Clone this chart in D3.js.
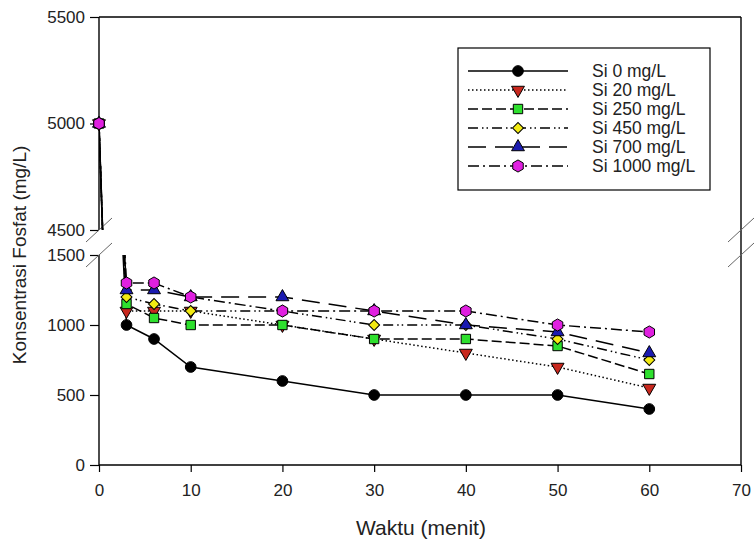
<!DOCTYPE html>
<html>
<head>
<meta charset="utf-8">
<script src="https://cdn.jsdelivr.net/npm/d3@7"></script>
<style>
  html, body { margin: 0; padding: 0; background: #fff; }
  svg { display: block; font-family: "Liberation Sans", Arial, sans-serif; }
</style>
</head>
<body>
<svg id="chart" width="754" height="541"></svg>
<script>
// ---- Data ----
const times = [0, 3, 6, 10, 20, 30, 40, 50, 60];
const si0    = [5000, 1000, 900, 700, 600, 500, 500, 500, 400];
const si20   = [5000, 1100, 1100, 1100, 1000, 900, 800, 700, 550];
const si250  = [5000, 1150, 1050, 1000, 1000, 900, 900, 850, 650];
const si450  = [5000, 1200, 1150, 1100, 1100, 1000, 1000, 900, 750];
const si700  = [5000, 1250, 1250, 1200, 1200, 1100, 1000, 950, 800];
const si1000 = [5000, 1300, 1300, 1200, 1100, 1100, 1100, 1000, 950];
const seriesNames = ["Si 0 mg/L", "Si 20 mg/L", "Si 250 mg/L", "Si 450 mg/L", "Si 700 mg/L", "Si 1000 mg/L"];
const xTicks = [0, 10, 20, 30, 40, 50, 60, 70];
const yTopTicks = [4500, 5000, 5500];
const yBotTicks = [0, 500, 1000, 1500];

// ---- Styles ----
const hexagon = {
  draw(ctx, size) {
    const r = Math.sqrt(size / (3 * Math.sqrt(3) / 2));
    for (let i = 0; i < 6; i++) {
      const a = (-90 + i * 60) * Math.PI / 180;
      const px = r * Math.cos(a), py = r * Math.sin(a);
      if (i === 0) ctx.moveTo(px, py); else ctx.lineTo(px, py);
    }
    ctx.closePath();
  }
};
const styles = [
  { data: si0,    fill: "#000000", symbol: d3.symbolCircle,   size: 90, rot: 0,   dash: null },
  { data: si20,   fill: "#c8281e", symbol: d3.symbolTriangle, size: 72, rot: 180, dash: "1.5,2.5" },
  { data: si250,  fill: "#2ee02e", symbol: d3.symbolSquare,   size: 88, rot: 0,   dash: "10,4" },
  { data: si450,  fill: "#f2ea12", symbol: d3.symbolSquare,   size: 60, rot: 45,  dash: "10,4,1.5,3,1.5,4" },
  { data: si700,  fill: "#1b1bb0", symbol: d3.symbolTriangle, size: 72, rot: 0,   dash: "18,9" },
  { data: si1000, fill: "#e020e0", symbol: hexagon,           size: 95, rot: 0,   dash: "11,4,2,4" }
];

// ---- Layout ----
const svg = d3.select("#chart");
const x = d3.scaleLinear().domain([0, 70]).range([99, 741]);
const yTop = d3.scaleLinear().domain([4500, 5500]).range([230, 17]);
const yBot = d3.scaleLinear().domain([0, 1500]).range([465, 255]);

const defs = svg.append("defs");
defs.append("clipPath").attr("id", "clipTop").append("rect")
  .attr("x", 99).attr("y", 17).attr("width", 642).attr("height", 213);
defs.append("clipPath").attr("id", "clipBot").append("rect")
  .attr("x", 99).attr("y", 255).attr("width", 642).attr("height", 210);

// ---- Axes ----
function styleAxis(g) {
  g.selectAll("path.domain").remove();
  g.selectAll(".tick line").attr("stroke", "#000").attr("stroke-width", 1.2);
  g.selectAll(".tick text").attr("font-size", "17px").attr("fill", "#222")
    .attr("font-family", "Liberation Sans, Arial, sans-serif");
}
svg.append("g").attr("transform", "translate(99,0)")
  .call(d3.axisLeft(yTop).tickValues(yTopTicks).tickSize(9).tickPadding(5).tickFormat(d3.format("d")))
  .call(styleAxis);
svg.append("g").attr("transform", "translate(99,0)")
  .call(d3.axisLeft(yBot).tickValues(yBotTicks).tickSize(9).tickPadding(5).tickFormat(d3.format("d")))
  .call(styleAxis);
svg.append("g").attr("transform", "translate(0,465)")
  .call(d3.axisBottom(x).tickValues(xTicks).tickSize(7).tickPadding(12).tickFormat(d3.format("d")))
  .call(styleAxis);

// frame lines
const frame = svg.append("g").attr("stroke", "#000").attr("stroke-width", 1.4).attr("fill", "none");
frame.append("line").attr("x1", x(0)).attr("x2", x(0)).attr("y1", yTop(5500)).attr("y2", yTop(4500));
frame.append("line").attr("x1", x(0)).attr("x2", x(0)).attr("y1", yBot(1500)).attr("y2", yBot(0));
frame.append("line").attr("x1", x(0)).attr("x2", x(70)).attr("y1", yTop(5500)).attr("y2", yTop(5500));
frame.append("line").attr("x1", x(0)).attr("x2", x(70)).attr("y1", yBot(0)).attr("y2", yBot(0));
frame.append("line").attr("x1", x(70)).attr("x2", x(70)).attr("y1", yTop(5500)).attr("y2", yBot(0));

// break marks
const brk = svg.append("g").attr("stroke", "#666").attr("stroke-width", 1);
[x(0), x(70)].forEach(bx => {
  [yTop(4500), yBot(1500)].forEach(by => {
    brk.append("line").attr("x1", bx - 13).attr("y1", by + 12).attr("x2", bx + 13).attr("y2", by - 12);
  });
});

// ---- Series ----
const plotTop = svg.append("g").attr("clip-path", "url(#clipTop)");
const plotBot = svg.append("g").attr("clip-path", "url(#clipBot)");
const markers = svg.append("g");

styles.forEach((s) => {
  const pts = times.map((t, i) => [t, s.data[i]]);
  const lineTop = d3.line().x(d => x(d[0])).y(d => yTop(d[1]));
  const lineBot = d3.line().x(d => x(d[0])).y(d => yBot(d[1]));
  [[plotTop, lineTop], [plotBot, lineBot]].forEach(([g, ln]) => {
    g.append("path").datum(pts).attr("d", ln)
      .attr("fill", "none").attr("stroke", "#000").attr("stroke-width", 1.5)
      .attr("stroke-dasharray", s.dash);
  });
  const sym = d3.symbol().type(s.symbol).size(s.size);
  markers.append("g").selectAll("path").data(pts).join("path")
    .attr("d", sym)
    .attr("transform", d => {
      const yy = d[1] >= 4500 ? yTop(d[1]) : yBot(d[1]);
      return `translate(${x(d[0])},${yy}) rotate(${s.rot})`;
    })
    .attr("fill", s.fill).attr("stroke", "#000").attr("stroke-width", 1);
});

// ---- Axis titles ----
svg.append("text").attr("x", 421).attr("y", 535).attr("text-anchor", "middle")
  .attr("font-size", "21px").attr("fill", "#222").text("Waktu (menit)");
svg.append("text").attr("transform", "translate(26,255) rotate(-90)").attr("text-anchor", "middle")
  .attr("font-size", "19px").attr("fill", "#222").text("Konsentrasi Fosfat (mg/L)");

// ---- Legend ----
const leg = svg.append("g");
leg.append("rect").attr("x", 458).attr("y", 48).attr("width", 252).attr("height", 142)
  .attr("fill", "#fff").attr("stroke", "#000").attr("stroke-width", 1.2);
styles.forEach((s, i) => {
  const ly = 71 + i * 19;
  leg.append("line").attr("x1", 468).attr("x2", 568).attr("y1", ly).attr("y2", ly)
    .attr("stroke", "#000").attr("stroke-width", 1.5).attr("stroke-dasharray", s.dash);
  leg.append("path").attr("d", d3.symbol().type(s.symbol).size(s.size)())
    .attr("transform", `translate(518,${ly}) rotate(${s.rot})`)
    .attr("fill", s.fill).attr("stroke", "#000").attr("stroke-width", 1);
  leg.append("text").attr("x", 592).attr("y", ly).attr("dy", "0.35em")
    .attr("font-size", "17.5px").attr("fill", "#222").text(seriesNames[i]);
});
</script>
</body>
</html>
